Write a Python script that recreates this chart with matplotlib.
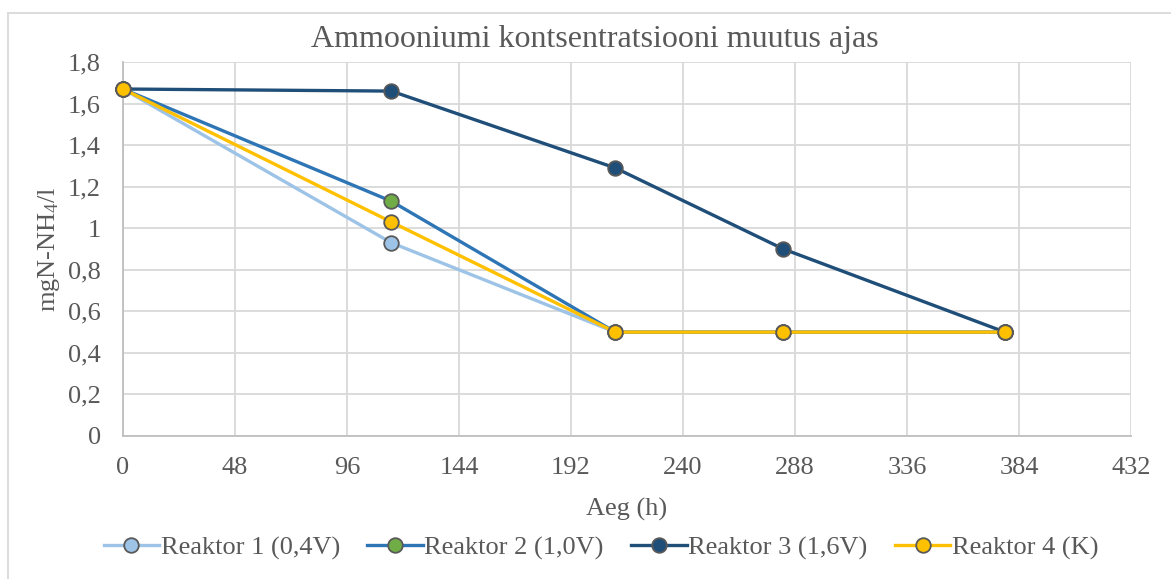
import matplotlib
matplotlib.use("Agg")
import matplotlib.pyplot as plt
from matplotlib.lines import Line2D

# Data
hours = [0, 115, 211, 283, 378]
reaktor1 = [1.67, 0.93, 0.50, 0.50, 0.50]
reaktor2 = [1.67, 1.13, 0.50, 0.50, 0.50]
reaktor3 = [1.67, 1.66, 1.29, 0.90, 0.50]
reaktor4 = [1.67, 1.03, 0.50, 0.50, 0.50]
labels = ["Reaktor 1 (0,4V)", "Reaktor 2 (1,0V)", "Reaktor 3 (1,6V)", "Reaktor 4 (K)"]
x_ticks = [0, 48, 96, 144, 192, 240, 288, 336, 384, 432]
y_ticks = [0, 0.2, 0.4, 0.6, 0.8, 1.0, 1.2, 1.4, 1.6, 1.8]

line_colors = ["#9DC3E6", "#2E75B6", "#1F4E79", "#FFC000"]
marker_colors = ["#9DC3E6", "#70AD47", "#1F4E79", "#FFC000"]
text_color = "#595959"

plt.rcParams['font.family'] = ['Liberation Serif', 'DejaVu Serif']
plt.rcParams['mathtext.fontset'] = 'custom'
plt.rcParams['mathtext.rm'] = 'Liberation Serif'
plt.rcParams['mathtext.it'] = 'Liberation Serif:italic'
plt.rcParams['mathtext.bf'] = 'Liberation Serif:bold'

fs = 19

fig = plt.figure(figsize=(11.71, 5.79), dpi=100)
ax = fig.add_axes([123/1171, 1-436/579, (1131-123)/1171, (436-62)/579])

series = [reaktor1, reaktor2, reaktor3, reaktor4]
handles = []
for s, lc, mc, lab in zip(series, line_colors, marker_colors, labels):
    ax.plot(hours, s, color=lc, lw=2.4, marker='o', markersize=10.5,
            markerfacecolor=mc, markeredgecolor=text_color, markeredgewidth=1.3,
            zorder=3, clip_on=False)
    handles.append(Line2D([], [], color=lc, lw=2.4, marker='o', markersize=10.5,
                          markerfacecolor=mc, markeredgecolor=text_color,
                          markeredgewidth=1.3, label=lab))

ax.set_xlim(0, 432)
ax.set_ylim(0, 1.8)
ax.set_xticks(x_ticks)
ax.set_yticks(y_ticks)
ax.set_xticklabels([str(v) for v in x_ticks])
ax.set_yticklabels([("%g" % v).replace('.', ',') for v in y_ticks])
ax.tick_params(axis='both', length=0, labelsize=fs, labelcolor=text_color)
ax.tick_params(axis='x', pad=15)
ax.tick_params(axis='y', pad=16)
ax.grid(True, color="#D9D9D9", lw=1.3)
ax.set_axisbelow(True)
for sp in ['top', 'right']:
    ax.spines[sp].set_visible(False)
for sp in ['left', 'bottom']:
    ax.spines[sp].set_color("#BFBFBF")
    ax.spines[sp].set_linewidth(1.3)

ax.set_xlabel("Aeg (h)", fontsize=fs, color=text_color, labelpad=14)
ax.set_ylabel("mgN-NH$_4$/l", fontsize=fs, color=text_color, labelpad=4)
fig.text(595/1171, 1-40/579, "Ammooniumi kontsentratsiooni muutus ajas",
         ha='center', va='center', fontsize=23, color=text_color)

leg = fig.legend(handles=handles, loc='center', bbox_to_anchor=(601/1171, 1-548/579),
                 ncol=4, frameon=False, fontsize=fs, handlelength=2.1,
                 handletextpad=0.05, columnspacing=1.05, labelcolor=text_color)

# figure border (top and left visible)
fig.add_artist(Line2D([8/1171, 1], [1-13/579, 1-13/579], color="#D9D9D9", lw=1.3,
                      transform=fig.transFigure))
fig.add_artist(Line2D([8/1171, 8/1171], [0, 1-13/579], color="#D9D9D9", lw=1.3,
                      transform=fig.transFigure))

fig.savefig("out.png", dpi=100)
